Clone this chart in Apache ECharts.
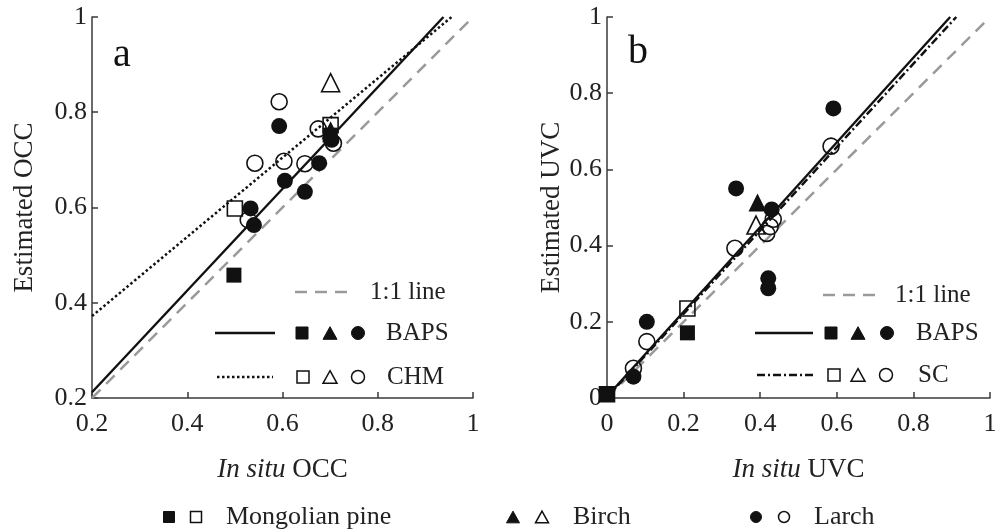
<!DOCTYPE html>
<html>
<head>
<meta charset="utf-8">
<style>
  html, body { margin: 0; padding: 0; background: #fff; }
  #chart { width: 1000px; height: 532px; }
</style>
<script src="https://cdn.jsdelivr.net/npm/echarts@6/dist/echarts.min.js"></script>
</head>
<body>
<div id="chart"></div>
<script>
// ---- Panel a: overstory canopy cover (OCC) ----
const occPineBAPS  = [[0.498, 0.458], [0.700, 0.752]];
const occPineCHM   = [[0.500, 0.598], [0.701, 0.773]];
const occBirchBAPS = [[0.701, 0.762]];
const occBirchCHM  = [[0.701, 0.862]];
const occLarchBAPS = [[0.593, 0.771], [0.605, 0.656], [0.647, 0.633], [0.677, 0.693],
                      [0.533, 0.598], [0.540, 0.563], [0.703, 0.742]];
const occLarchCHM  = [[0.593, 0.822], [0.542, 0.693], [0.603, 0.697], [0.647, 0.692],
                      [0.675, 0.765], [0.707, 0.735], [0.528, 0.574]];
const occOneToOne  = [[0.2, 0.2], [0.99, 0.99]];
const occFitBAPS   = [[0.2, 0.212], [0.938, 1.0]];
const occFitCHM    = [[0.2, 0.372], [0.955, 1.0]];

// ---- Panel b: understory vegetation cover (UVC) ----
const uvcPineBAPS  = [[0.0, 0.01], [0.210, 0.171]];
const uvcPineSC    = [[0.0, 0.01], [0.210, 0.235]];
const uvcBirchBAPS = [[0.393, 0.513]];
const uvcBirchSC   = [[0.389, 0.454]];
const uvcLarchBAPS = [[0.104, 0.200], [0.069, 0.056], [0.337, 0.550], [0.430, 0.495],
                      [0.421, 0.314], [0.421, 0.288], [0.591, 0.760]];
const uvcLarchSC   = [[0.104, 0.148], [0.069, 0.078], [0.334, 0.393], [0.434, 0.469],
                      [0.426, 0.450], [0.417, 0.432], [0.585, 0.661]];
const uvcOneToOne  = [[0.0, 0.0], [0.99, 0.99]];
const uvcFitBAPS   = [[0.0, 0.004], [0.896, 1.0]];
const uvcFitSC     = [[0.0, 0.002], [0.912, 1.0]];

// ---- Axis ticks and labels ----
const occTicks = ['0.2', '0.4', '0.6', '0.8', '1'];
const uvcTicks = ['0', '0.2', '0.4', '0.6', '0.8', '1'];
const speciesNames = ['Mongolian pine', 'Birch', 'Larch'];

const FONT = "'Liberation Serif', 'Times New Roman', serif";
const GRAY = '#9a9a9a';
const INK = '#111';

function tickFormatter(labels, min) {
  return v => {
    const i = Math.round((v - min) / 0.2);
    return labels[i] !== undefined ? labels[i] : '';
  };
}

function axisBase(min, labels, gridIndex, name, nameGap, isY) {
  return {
    type: 'value', gridIndex, min, max: 1, interval: 0.2,
    name, nameLocation: 'middle', nameGap,
    nameTextStyle: {
      fontFamily: FONT, fontSize: 27, color: '#222',
      rich: { i: { fontFamily: FONT, fontSize: 27, fontStyle: 'italic', color: '#222' } }
    },
    axisLine: { show: true, onZero: false, lineStyle: { color: '#3a3a3a', width: 1.5 } },
    axisTick: { show: true, inside: true, length: 6, lineStyle: { color: '#3a3a3a', width: 1.5 } },
    axisLabel: { fontFamily: FONT, fontSize: 26, color: '#222', margin: isY ? 5 : 13,
                 formatter: tickFormatter(labels, min) },
    splitLine: { show: false }
  };
}

function lineSeries(data, idx, style) {
  return {
    type: 'line', xAxisIndex: idx, yAxisIndex: idx, data,
    showSymbol: false, symbol: 'none', silent: true, z: 2,
    lineStyle: Object.assign({ color: INK, width: 2.4 }, style)
  };
}

function scatterSeries(data, idx, symbol, filled) {
  const size = symbol === 'triangle' ? 18 : (symbol === 'rect' ? 15 : 16);
  return {
    type: 'scatter', xAxisIndex: idx, yAxisIndex: idx, data, symbol,
    symbolSize: size, silent: true, z: 3,
    itemStyle: filled
      ? { color: INK, borderColor: INK, borderWidth: 0, opacity: 1 }
      : { color: 'rgba(0,0,0,0)', borderColor: INK, borderWidth: 1.6, opacity: 1 }
  };
}

// Small legend glyphs drawn as graphic elements
function glyph(kind, filled, cx, cy, s) {
  const style = filled ? { fill: INK, stroke: INK, lineWidth: 1 }
                       : { fill: 'rgba(0,0,0,0)', stroke: INK, lineWidth: 1.5 };
  if (kind === 'rect') {
    return { type: 'rect', shape: { x: cx - s / 2, y: cy - s / 2, width: s, height: s }, style };
  }
  if (kind === 'circle') {
    return { type: 'circle', shape: { cx, cy, r: s / 2 }, style };
  }
  const h = s * 0.9;
  return { type: 'polygon',
           shape: { points: [[cx, cy - h / 2], [cx + s / 2, cy + h / 2], [cx - s / 2, cy + h / 2]] },
           style };
}
function label(text, x, y, size) {
  return { type: 'text', x, y,
           style: { text, font: size + 'px ' + FONT, fill: '#222', align: 'left', verticalAlign: 'middle' } };
}
function seg(x1, x2, y, style) {
  return { type: 'line', shape: { x1, y1: y, x2, y2: y },
           style: Object.assign({ stroke: INK, lineWidth: 2.4 }, style) };
}

const graphics = [
  { type: 'text', x: 122, y: 55, style: { text: 'a', font: '40px ' + FONT, fill: '#111', align: 'center', verticalAlign: 'middle' } },
  { type: 'text', x: 638, y: 52, style: { text: 'b', font: '40px ' + FONT, fill: '#111', align: 'center', verticalAlign: 'middle' } },

  // panel a key
  seg(295, 355, 292, { stroke: GRAY, lineWidth: 2.5, lineDash: [12, 8] }),
  label('1:1 line', 370, 292, 25),
  seg(215, 275, 333, {}),
  glyph('rect', true, 302, 333, 12), glyph('triangle', true, 330, 333, 14), glyph('circle', true, 358, 333, 13),
  label('BAPS', 386, 333, 25),
  seg(217, 273, 377, { lineWidth: 2.5, lineDash: [2.5, 2.5] }),
  glyph('rect', false, 303, 377, 12), glyph('triangle', false, 330, 377, 14), glyph('circle', false, 358, 377, 13),
  label('CHM', 387, 377, 25),

  // panel b key
  seg(823, 882, 295, { stroke: GRAY, lineWidth: 2.5, lineDash: [12, 8] }),
  label('1:1 line', 895, 295, 25),
  seg(755, 813, 333, {}),
  glyph('rect', true, 831, 333, 12), glyph('triangle', true, 858, 333, 14), glyph('circle', true, 887, 333, 13),
  label('BAPS', 916, 333, 25),
  seg(757, 813, 375, { lineWidth: 2.5, lineDash: [8, 3, 2, 3] }),
  glyph('rect', false, 834, 375, 12), glyph('triangle', false, 858, 375, 14), glyph('circle', false, 886, 375, 13),
  label('SC', 918, 375, 25),

  // species key along the bottom
  glyph('rect', true, 169, 517, 11), glyph('rect', false, 196, 517, 11),
  label(speciesNames[0], 226, 517, 26),
  glyph('triangle', true, 513, 517, 13), glyph('triangle', false, 542, 517, 13),
  label(speciesNames[1], 573, 517, 26),
  glyph('circle', true, 756, 517, 11), glyph('circle', false, 784, 517, 11),
  label(speciesNames[2], 814, 517, 26)
];

const option = {
  animation: false,
  backgroundColor: '#fff',
  grid: [
    { left: 92, top: 17, width: 381, height: 381 },
    { left: 607, top: 17, width: 383, height: 381 }
  ],
  xAxis: [
    axisBase(0.2, occTicks, 0, '{i|In situ} OCC', 58, false),
    axisBase(0, uvcTicks, 1, '{i|In situ} UVC', 58, false)
  ],
  yAxis: [
    axisBase(0.2, occTicks, 0, 'Estimated OCC', 54, true),
    axisBase(0, uvcTicks, 1, 'Estimated UVC', 42, true)
  ],
  series: [
    lineSeries(occOneToOne, 0, { color: GRAY, width: 2.5, type: [12, 8] }),
    lineSeries(occFitBAPS, 0, {}),
    lineSeries(occFitCHM, 0, { width: 2.5, type: [2.5, 2.5] }),
    scatterSeries(occPineBAPS, 0, 'rect', true),
    scatterSeries(occPineCHM, 0, 'rect', false),
    scatterSeries(occBirchBAPS, 0, 'triangle', true),
    scatterSeries(occBirchCHM, 0, 'triangle', false),
    scatterSeries(occLarchBAPS, 0, 'circle', true),
    scatterSeries(occLarchCHM, 0, 'circle', false),

    lineSeries(uvcOneToOne, 1, { color: GRAY, width: 2.5, type: [12, 8] }),
    lineSeries(uvcFitBAPS, 1, {}),
    lineSeries(uvcFitSC, 1, { width: 2.5, type: [8, 3, 2, 3] }),
    scatterSeries(uvcPineBAPS, 1, 'rect', true),
    scatterSeries(uvcPineSC, 1, 'rect', false),
    scatterSeries(uvcBirchBAPS, 1, 'triangle', true),
    scatterSeries(uvcBirchSC, 1, 'triangle', false),
    scatterSeries(uvcLarchBAPS, 1, 'circle', true),
    scatterSeries(uvcLarchSC, 1, 'circle', false)
  ],
  graphic: graphics
};

const chart = echarts.init(document.getElementById('chart'), null, { renderer: 'canvas' });
chart.setOption(option);
</script>
</body>
</html>
